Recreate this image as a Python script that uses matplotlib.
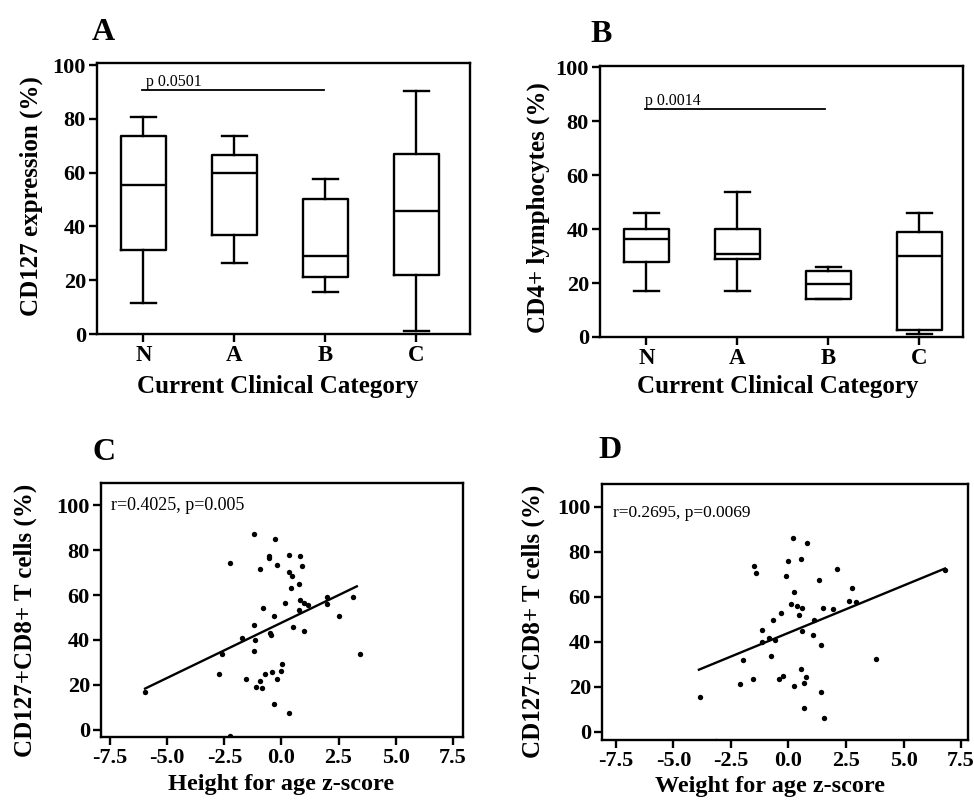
import matplotlib
matplotlib.use("Agg")
import matplotlib.pyplot as plt

plt.rcParams["font.family"] = ["Liberation Serif", "DejaVu Serif"]
plt.rcParams["font.weight"] = "bold"
plt.rcParams["axes.labelweight"] = "bold"
plt.rcParams["axes.unicode_minus"] = False

# Panel A / B: box plot summaries by clinical category
categories = ["N", "A", "B", "C"]
cd127_whislo = [11.5, 26.3, 15.7, 1.2]
cd127_q1 = [31.2, 36.9, 21.2, 21.9]
cd127_med = [55.6, 60.0, 29.0, 45.6]
cd127_q3 = [73.8, 66.4, 50.4, 66.9]
cd127_whishi = [80.9, 73.5, 57.5, 90.4]

cd4_whislo = [17.0, 17.0, 14.0, 1.2]
cd4_q1 = [27.9, 28.9, 14.0, 2.5]
cd4_med = [36.2, 30.8, 19.6, 30.0]
cd4_q3 = [39.9, 39.9, 24.5, 38.9]
cd4_whishi = [46.1, 53.9, 26.1, 46.1]

# Panel C: height-for-age z-score vs CD127+CD8+ T cells
hfa_z = [-1.18, -0.29, -0.54, -0.54, 0.35, 0.80, -2.25, -0.93, -0.19, 0.91,
         0.35, 0.47, 0.79, 0.42, 1.99, 3.15, 0.80, 0.15, 0.98, 1.17,
         1.99, -0.82, 0.79, -0.31, 2.54, -1.18, 0.51, 1.01, -0.48, -0.47,
         -1.74, -1.14, -2.61, -1.18, 3.42, 0.04, -2.73, -0.74, -0.41, -0.01,
         -1.56, -0.96, -0.20, -1.12, -0.83, -5.97, -0.34, 0.35, -2.25]
hfa_cd8 = [87.4, 85.1, 77.6, 76.6, 78.0, 77.3, 74.4, 71.6, 73.4, 73.1,
           70.1, 68.4, 64.8, 63.2, 59.1, 59.0, 57.7, 56.6, 56.3, 55.7,
           56.2, 54.2, 53.2, 50.8, 50.8, 46.7, 45.9, 44.1, 42.9, 42.2,
           40.9, 39.8, 33.6, 34.9, 33.6, 29.1, 24.8, 24.8, 25.7, 26.3,
           22.6, 21.5, 22.7, 19.0, 18.6, 16.8, 11.6, 7.4, -3.0]
hfa_fit_x = [-5.97, 3.30]
hfa_fit_y = [18.3, 63.9]

# Panel D: weight-for-age z-score vs CD127+CD8+ T cells
wfa_z = [0.19, 0.80, -0.04, 0.54, -1.51, -1.42, 2.12, -0.12, 1.33, 2.75,
         0.25, 0.13, 0.35, 0.57, 1.49, 1.92, 2.65, 2.92, -0.32, 0.45,
         1.11, -0.66, -1.13, 0.58, 1.07, -0.86, -0.58, -1.13, 1.40, -0.77,
         -1.97, 3.79, 0.54, 0.76, -1.52, -0.25, -0.41, -2.11, 0.23, 0.69,
         1.42, -3.83, 0.69, 1.56, 6.80, -3.16]
wfa_cd8 = [86.2, 84.0, 75.9, 76.8, 73.4, 70.3, 72.2, 69.1, 67.2, 63.7,
           62.0, 56.6, 55.7, 54.8, 54.8, 54.4, 57.9, 57.7, 52.9, 52.0,
           49.6, 49.5, 45.3, 44.6, 42.8, 41.8, 40.7, 39.8, 38.6, 33.6,
           32.1, 32.2, 27.8, 24.5, 23.6, 25.0, 23.6, 21.2, 20.4, 21.7,
           17.8, 15.6, 10.4, 6.2, 71.9, -4.0]
wfa_fit_x = [-3.89, 6.80]
wfa_fit_y = [27.6, 72.5]

W, H = 974, 801
fig = plt.figure(figsize=(W / 100, H / 100), dpi=100)
fig.patch.set_facecolor("white")


def px_axes(left, top, right, bottom):
    return fig.add_axes([left / W, 1 - bottom / H, (right - left) / W, (bottom - top) / H])


def style_axes(ax, tick_size=16):
    for sp in ax.spines.values():
        sp.set_linewidth(1.7)
        sp.set_color("black")
    ax.tick_params(direction="out", length=6, width=1.7, labelsize=tick_size,
                   top=False, right=False, pad=2)


def draw_box(ax, lo, q1, med, q3, hi):
    stats = [dict(whislo=a, q1=b, med=c, q3=d, whishi=e, fliers=[])
             for a, b, c, d, e in zip(lo, q1, med, q3, hi)]
    line = dict(color="black", linewidth=1.7)
    ax.bxp(stats, positions=range(len(categories)), widths=0.5, capwidths=0.27,
           showfliers=False, boxprops=line, whiskerprops=line, capprops=line,
           medianprops=line)
    ax.set_yticks([0, 20, 40, 60, 80, 100])


# ---- Panel A ----
ax_a = px_axes(97, 63, 470, 334)
draw_box(ax_a, cd127_whislo, cd127_q1, cd127_med, cd127_q3, cd127_whishi)
ax_a.set_xlim(-0.51, 3.59)
ax_a.set_ylim(0, 100.8)
style_axes(ax_a)
ax_a.set_xticks(range(len(categories)))
ax_a.set_xticklabels(categories, fontsize=16.5)
ax_a.plot([-0.01, 1.98], [90.7, 90.7], color="black", lw=1.3)
ax_a.text(0.03, 92.4, "p 0.0501", fontsize=11.5, fontweight="normal", va="baseline")
ax_a.set_ylabel("CD127 expression (%)", fontsize=18)
ax_a.yaxis.set_label_coords(-0.145, 0.509)
ax_a.set_xlabel("Current Clinical Category", fontsize=18)
ax_a.xaxis.set_label_coords(0.484, -0.152)

# ---- Panel B ----
ax_b = px_axes(600, 66, 963, 337)
draw_box(ax_b, cd4_whislo, cd4_q1, cd4_med, cd4_q3, cd4_whishi)
ax_b.set_xlim(-0.51, 3.48)
ax_b.set_ylim(0, 100.4)
style_axes(ax_b)
ax_b.set_xticks(range(len(categories)))
ax_b.set_xticklabels(categories, fontsize=16.5)
ax_b.plot([-0.02, 1.96], [84.3, 84.3], color="black", lw=1.3)
ax_b.text(-0.01, 86.0, "p 0.0014", fontsize=11.5, fontweight="normal", va="baseline")
ax_b.set_ylabel("CD4+ lymphocytes (%)", fontsize=18)
ax_b.yaxis.set_label_coords(-0.138, 0.476)
ax_b.set_xlabel("Current Clinical Category", fontsize=18)
ax_b.xaxis.set_label_coords(0.489, -0.142)

# ---- Panel C ----
ax_c = px_axes(101, 483, 463, 737)
ax_c.scatter(hfa_z, hfa_cd8, s=15, color="black", zorder=3, linewidths=0)
ax_c.plot(hfa_fit_x, hfa_fit_y, color="black", lw=1.7)
ax_c.set_xlim(-7.9, 7.95)
ax_c.set_ylim(-3.3, 110)
ax_c.set_xticks([-7.5, -5.0, -2.5, 0.0, 2.5, 5.0, 7.5])
ax_c.set_yticks([0, 20, 40, 60, 80, 100])
style_axes(ax_c)
ax_c.text(0.027, 0.894, "r=0.4025, p=0.005", transform=ax_c.transAxes,
          fontsize=13, fontweight="normal", va="baseline")
ax_c.set_ylabel("CD127+CD8+ T cells (%)", fontsize=18)
ax_c.yaxis.set_label_coords(-0.177, 0.46)
ax_c.set_xlabel("Height for age z-score", fontsize=17.5)
ax_c.xaxis.set_label_coords(0.497, -0.145)

# ---- Panel D ----
ax_d = px_axes(602, 484, 968, 740)
ax_d.scatter(wfa_z, wfa_cd8, s=15, color="black", zorder=3, linewidths=0)
ax_d.plot(wfa_fit_x, wfa_fit_y, color="black", lw=1.7)
ax_d.set_xlim(-8.1, 7.8)
ax_d.set_ylim(-3.6, 110)
ax_d.set_xticks([-7.5, -5.0, -2.5, 0.0, 2.5, 5.0, 7.5])
ax_d.set_yticks([0, 20, 40, 60, 80, 100])
style_axes(ax_d)
ax_d.text(0.031, 0.872, "r=0.2695, p=0.0069", transform=ax_d.transAxes,
          fontsize=12.5, fontweight="normal", va="baseline")
ax_d.set_ylabel("CD127+CD8+ T cells (%)", fontsize=18)
ax_d.yaxis.set_label_coords(-0.156, 0.465)
ax_d.set_xlabel("Weight for age z-score", fontsize=17.5)
ax_d.xaxis.set_label_coords(0.459, -0.14)

# Panel letters
for letter, x, y in [("A", 92, 40), ("B", 590, 42), ("C", 92, 460), ("D", 598, 458)]:
    fig.text(x / W, 1 - y / H, letter, fontsize=23, fontweight="bold",
             ha="left", va="baseline")

fig.savefig("out.png", dpi=100, facecolor="white")
print("Figure saved.")
